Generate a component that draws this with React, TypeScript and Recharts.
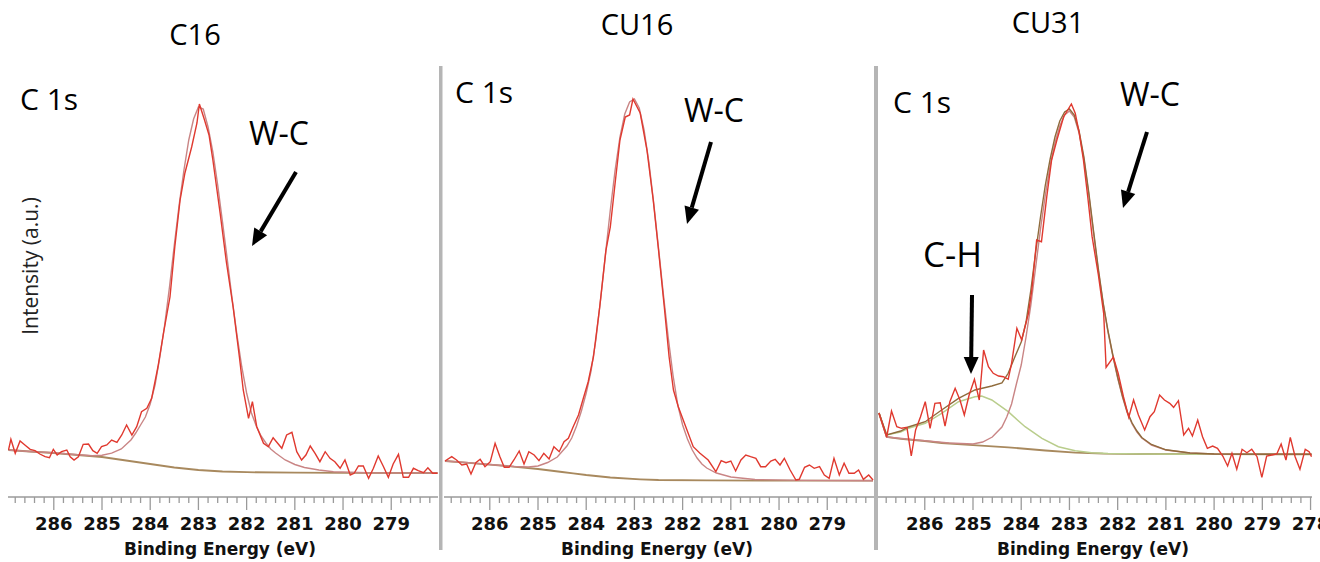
import React from 'react';
import { LineChart, Line, XAxis, YAxis } from 'recharts';

type Pt = [number, number];

// binding energy (eV), intensity (a.u.)
const majorTicks = [278, 279, 280, 281, 282, 283, 284, 285, 286];
const minorTicks = [
  278.2, 278.4, 278.6, 278.8, 279.2, 279.4, 279.6, 279.8, 280.2, 280.4, 280.6, 280.8,
  281.2, 281.4, 281.6, 281.8, 282.2, 282.4, 282.6, 282.8, 283.2, 283.4, 283.6, 283.8,
  284.2, 284.4, 284.6, 284.8, 285.2, 285.4, 285.6, 285.8, 286.2, 286.4, 286.6, 286.8,
];

const c16Raw: Pt[] = [
  [286.94, 47], [286.89, 57.7], [286.8, 43.7], [286.7, 56], [286.6, 52], [286.49, 47.7], [286.39, 46.3],
  [286.29, 43], [286.18, 40.3], [286.09, 39.3], [286.01, 47.7], [285.93, 42], [285.84, 45.3], [285.73, 47],
  [285.66, 40.3], [285.58, 37], [285.49, 40.3], [285.39, 52.7], [285.28, 53], [285.19, 46.3], [285.1, 43.7],
  [285.01, 50.3], [284.9, 52], [284.8, 57], [284.69, 54.7], [284.59, 62], [284.49, 72], [284.38, 62],
  [284.28, 70.3], [284.18, 85.3], [284.07, 88.7], [283.97, 98.7], [283.84, 130], [283.72, 165], [283.59, 200],
  [283.49, 250], [283.38, 297], [283.28, 324], [283.14, 350], [283.03, 374], [282.98, 393], [282.88, 378],
  [282.78, 362], [282.7, 337], [282.55, 284], [282.42, 235], [282.28, 190], [282.15, 140], [282.07, 107],
  [281.96, 78.7], [281.88, 95.3], [281.79, 70.3], [281.65, 53.7], [281.55, 50.3], [281.45, 59.3], [281.27, 48.7],
  [281.17, 62], [281.06, 64.7], [280.96, 45.3], [280.86, 37], [280.77, 42], [280.68, 51], [280.58, 43.7],
  [280.48, 35.3], [280.37, 45.3], [280.27, 38.7], [280.17, 35.3], [280.06, 28.7], [279.96, 37], [279.85, 22],
  [279.77, 23.7], [279.68, 31], [279.58, 31], [279.47, 18.7], [279.37, 28.7], [279.27, 41], [279.16, 30.3],
  [279.06, 19.7], [278.96, 33], [278.85, 42.7], [278.75, 19.7], [278.64, 19.7], [278.54, 28.7], [278.44, 26.3],
  [278.33, 24.3], [278.24, 29.3], [278.14, 23.7], [278.04, 23.7],
];
const c16Fit: Pt[] = [
  [286.94, 47], [286.5, 45.5], [286.0, 44.3], [285.5, 42.3], [285.2, 41.2], [285.0, 41.8], [284.8, 43.8],
  [284.6, 48], [284.4, 57], [284.3, 64], [284.2, 72], [284.1, 80], [284.0, 93], [283.9, 112], [283.8, 140],
  [283.7, 172], [283.6, 210], [283.5, 252], [283.4, 292], [283.3, 327], [283.2, 357], [283.1, 378], [283.0, 390],
  [282.9, 388], [282.8, 370], [282.7, 345], [282.6, 312], [282.5, 275], [282.4, 237], [282.3, 198], [282.2, 162],
  [282.1, 130], [282.0, 104], [281.9, 84], [281.8, 71], [281.7, 61], [281.6, 54], [281.5, 48], [281.4, 44],
  [281.2, 37], [281.0, 32.5], [280.8, 29.5], [280.5, 27], [280.2, 25.3], [279.5, 24.3], [278.04, 24],
];
const c16Bg: Pt[] = [
  [286.94, 47], [286.5, 45.5], [286.0, 44], [285.5, 42], [285.0, 40], [284.5, 36.5], [284.0, 33], [283.5, 29.5],
  [283.0, 27], [282.5, 25.5], [282.0, 24.8], [281.0, 24.4], [280.0, 24.2], [278.04, 24],
];

const cu16Raw: Pt[] = [
  [286.93, 36], [286.79, 40.3], [286.69, 37], [286.58, 32], [286.48, 33], [286.39, 23], [286.29, 34.3],
  [286.2, 37.7], [286.1, 30.3], [285.99, 35.3], [285.89, 53.7], [285.79, 40.3], [285.7, 29.7], [285.6, 29.7],
  [285.5, 37], [285.39, 46], [285.29, 33], [285.19, 45.3], [285.08, 42], [284.98, 36.3], [284.88, 43.7],
  [284.77, 38], [284.67, 50.3], [284.56, 45.3], [284.46, 55.3], [284.37, 58.7], [284.27, 70.3], [284.16, 82],
  [284.07, 97], [283.96, 115], [283.85, 140], [283.72, 190], [283.59, 247], [283.5, 270], [283.4, 314],
  [283.3, 357], [283.19, 380], [283.1, 382], [283.03, 398], [282.88, 384], [282.74, 347], [282.61, 297],
  [282.5, 247], [282.38, 190], [282.28, 140], [282.19, 107], [282.09, 90.3], [281.91, 67], [281.78, 50.3],
  [281.64, 43.7], [281.47, 37], [281.31, 25.3], [281.2, 36.3], [281.1, 34.3], [281.0, 36], [280.9, 26],
  [280.79, 37], [280.69, 42], [280.59, 40.3], [280.48, 38.7], [280.38, 30.3], [280.28, 30.3], [280.17, 36],
  [280.08, 37.7], [279.98, 32], [279.89, 38.7], [279.77, 27], [279.65, 17], [279.58, 17.7], [279.47, 29.7],
  [279.37, 32], [279.27, 28.7], [279.16, 30.3], [279.06, 22], [278.96, 18.7], [278.86, 38.7], [278.75, 22],
  [278.65, 33.7], [278.55, 23.7], [278.44, 23.7], [278.35, 27], [278.25, 17.7], [278.14, 22], [278.05, 17],
];
const cu16Fit: Pt[] = [
  [286.93, 36], [286.5, 34.5], [286.0, 32.5], [285.5, 30.5], [285.2, 30], [285.0, 31], [284.8, 34.5],
  [284.6, 40], [284.4, 51], [284.3, 59], [284.2, 71], [284.1, 86], [284.0, 104], [283.9, 126], [283.8, 157],
  [283.7, 198], [283.6, 243], [283.5, 287], [283.4, 327], [283.3, 360], [283.2, 383], [283.1, 395], [283.0, 398],
  [282.9, 389], [282.8, 367], [282.7, 335], [282.6, 294], [282.5, 249], [282.4, 203], [282.3, 160], [282.2, 122],
  [282.1, 92], [282.0, 72], [281.9, 58], [281.8, 47], [281.7, 39], [281.6, 33], [281.5, 29], [281.3, 24],
  [281.0, 20], [280.5, 17.5], [279.5, 16.6], [278.05, 16.3],
];
const cu16Bg: Pt[] = [
  [286.93, 36], [286.5, 34.3], [286.0, 32.3], [285.65, 31], [285.0, 28], [284.5, 25], [284.27, 23.7],
  [284.0, 22], [283.5, 19.5], [282.88, 17.7], [282.5, 17], [281.5, 16.7], [280.0, 16.4], [278.05, 16.3],
];

const cu31Raw: Pt[] = [
  [286.95, 84], [286.79, 60], [286.69, 86], [286.58, 70.3], [286.48, 68.7], [286.37, 69.7], [286.28, 41],
  [286.19, 67], [286.09, 80], [285.99, 95.3], [285.89, 68.7], [285.79, 93.7], [285.68, 94.3], [285.58, 71],
  [285.48, 95.3], [285.37, 108.7], [285.27, 97], [285.18, 82], [285.08, 102], [284.97, 117.7], [284.87, 97],
  [284.78, 147], [284.68, 130.3], [284.58, 123.7], [284.47, 121], [284.37, 120.3], [284.27, 117.7],
  [284.2, 133.7], [284.09, 168.7], [283.99, 157], [283.85, 183.7], [283.78, 207], [283.68, 257],
  [283.58, 255.3], [283.47, 300.3], [283.37, 337], [283.26, 357], [283.12, 380.3], [282.96, 393],
  [282.88, 383.7], [282.8, 365], [282.71, 337], [282.62, 300], [282.53, 260.3], [282.4, 222], [282.29, 183.7],
  [282.24, 129.5], [282.09, 140], [281.99, 123.7], [281.88, 100.3], [281.77, 79.7], [281.67, 97], [281.57, 82],
  [281.44, 67], [281.33, 80.3], [281.24, 85.3], [281.13, 102], [281.03, 97], [280.92, 93.7], [280.84, 89.7],
  [280.74, 96.3], [280.63, 62], [280.53, 68.7], [280.45, 61], [280.34, 77], [280.24, 60.3], [280.14, 48.7],
  [280.03, 51], [279.93, 48.7], [279.82, 41], [279.72, 31], [279.63, 43.7], [279.53, 27.7], [279.42, 47.7],
  [279.32, 44.3], [279.22, 47.7], [279.11, 40.3], [279.01, 19.7], [278.91, 41], [278.8, 42], [278.7, 43],
  [278.61, 53], [278.51, 37], [278.42, 59.7], [278.32, 40.3], [278.22, 27.7], [278.11, 47.7], [278.03, 45.3],
  [277.98, 40.3],
];
const cu31Bg: Pt[] = [
  [286.95, 84], [286.79, 60], [286.5, 58.2], [286.0, 56], [285.65, 54], [285.0, 51.8], [284.27, 49.7],
  [283.5, 46.5], [282.88, 44.3], [282.3, 43.3], [281.5, 43], [280.0, 42.8], [277.98, 42.7],
];
const cu31CH: Pt[] = [
  [286.95, 84], [286.79, 62], [286.5, 65], [286.34, 68.7], [285.99, 73.7], [285.65, 83.7], [285.3, 95.3],
  [284.96, 100.3], [284.82, 101], [284.61, 97], [284.27, 85.3], [283.92, 70.3], [283.57, 58.7],
  [283.23, 50.3], [282.88, 46.3], [282.54, 44.3], [282.2, 43.5], [281.5, 43], [280.0, 42.8], [277.98, 42.7],
];
const cu31WC: Pt[] = [
  [286.95, 84], [286.79, 60], [286.0, 56.2], [285.5, 54], [285.0, 53], [284.8, 55], [284.6, 60], [284.4, 70],
  [284.3, 80], [284.2, 93], [284.1, 113], [284.0, 132], [283.9, 160], [283.8, 192], [283.7, 230], [283.6, 268],
  [283.5, 302], [283.4, 331], [283.3, 354], [283.2, 371], [283.1, 382], [283.0, 386], [282.9, 380],
  [282.8, 364], [282.7, 338], [282.6, 303], [282.5, 264], [282.4, 226], [282.3, 193], [282.2, 165],
  [282.1, 141], [282.0, 119], [281.9, 100], [281.8, 84], [281.7, 73], [281.6, 65], [281.5, 59], [281.3, 52],
  [281.0, 47], [280.5, 44], [280.0, 43], [277.98, 42.7],
];
const cu31Env: Pt[] = [
  [286.95, 84], [286.79, 62], [286.5, 66], [286.34, 70], [285.99, 75.3], [285.65, 87], [285.3, 98.7],
  [284.96, 107], [284.61, 111], [284.4, 114], [284.27, 123.7], [284.15, 138], [284.0, 155], [283.9, 175],
  [283.8, 207], [283.7, 245], [283.6, 280], [283.5, 312], [283.4, 338], [283.3, 360], [283.2, 376],
  [283.1, 385], [283.0, 388], [282.9, 382], [282.8, 366], [282.7, 340], [282.6, 305], [282.5, 266],
  [282.4, 228], [282.3, 194], [282.2, 166], [282.1, 142], [282.0, 120], [281.9, 101], [281.8, 85],
  [281.7, 74], [281.6, 66], [281.5, 59.5], [281.3, 52.5], [281.0, 47.2], [280.5, 44], [280.0, 43],
  [277.98, 42.7],
];

const RAW = '#e0392f';
const FIT = '#c98585';
const BG = '#a8895e';
const GREEN = '#b9cd8c';
const ENV = '#8f6b3c';
const AXIS = '#9a9a9a';
const AXIS_FONT = "'DejaVu Sans', sans-serif";

const toRows = (pts: Pt[]) => pts.map(([x, y]) => ({ x, y }));

const EnergyTick = (props: any) => {
  const { x, y, payload } = props;
  const major = majorTicks.includes(payload.value);
  return (
    <g>
      <line x1={x} x2={x} y1={y} y2={y + (major ? 13 : 6)} stroke={AXIS} strokeWidth={1.3} />
      {major && (
        <text x={x} y={y + 33} textAnchor="middle" fontFamily={AXIS_FONT}
          fontWeight="bold" fontSize={18} fill="#111">
          {payload.value}
        </text>
      )}
    </g>
  );
};

interface Series { data: Pt[]; color: string; width: number }

const Panel = ({ left, width, marginRight, domain, series }: {
  left: number; width: number; marginRight: number; domain: [number, number]; series: Series[];
}) => {
  const ticks = [...majorTicks, ...minorTicks]
    .filter(t => t >= domain[0] && t <= domain[1])
    .sort((a, b) => a - b);
  return (
    <div style={{ position: 'absolute', left, top: 66 }}>
      <LineChart width={width} height={496} margin={{ top: 0, right: marginRight, bottom: 0, left: 0 }}>
        <XAxis type="number" dataKey="x" domain={domain} reversed allowDataOverflow ticks={ticks} interval={0}
          tick={(p: any) => <EnergyTick {...p} />} tickLine={false} tickSize={0} tickMargin={0} height={65}
          axisLine={{ stroke: AXIS, strokeWidth: 1.5 }} />
        <YAxis type="number" domain={[0, 431]} hide allowDataOverflow />
        {series.map((s, i) => (
          <Line key={i} data={toRows(s.data)} dataKey="y" type="linear" stroke={s.color} strokeWidth={s.width}
            dot={false} activeDot={false} isAnimationActive={false} />
        ))}
      </LineChart>
    </div>
  );
};

const Arrow = ({ x1, y1, x2, y2 }: { x1: number; y1: number; x2: number; y2: number }) => {
  const dx = x2 - x1;
  const dy = y2 - y1;
  const len = Math.hypot(dx, dy);
  const ux = dx / len;
  const uy = dy / len;
  const bx = x2 - ux * 17;
  const by = y2 - uy * 17;
  const hw = 7.5;
  return (
    <g>
      <line x1={x1} y1={y1} x2={bx} y2={by} stroke="#000" strokeWidth={4} />
      <polygon points={`${x2},${y2} ${bx - uy * hw},${by + ux * hw} ${bx + uy * hw},${by - ux * hw}`} fill="#000" />
    </g>
  );
};

const LABEL_FONT = "'Open Sans', 'Noto Sans', sans-serif";

const App = () => (
  <div style={{ position: 'absolute', left: 0, top: 0, width: 1320, height: 562, background: '#fff', overflow: 'hidden' }}>
    <Panel left={8} width={430} marginRight={0} domain={[278.03, 286.95]}
      series={[
        { data: c16Bg, color: BG, width: 1.8 },
        { data: c16Fit, color: FIT, width: 1.4 },
        { data: c16Raw, color: RAW, width: 1.4 },
      ]} />
    <Panel left={444} width={430} marginRight={0} domain={[278.03, 286.95]}
      series={[
        { data: cu16Bg, color: BG, width: 1.8 },
        { data: cu16Fit, color: FIT, width: 1.4 },
        { data: cu16Raw, color: RAW, width: 1.4 },
      ]} />
    <Panel left={878} width={442} marginRight={8} domain={[277.97, 286.97]}
      series={[
        { data: cu31Bg, color: BG, width: 1.8 },
        { data: cu31CH, color: GREEN, width: 1.5 },
        { data: cu31WC, color: FIT, width: 1.4 },
        { data: cu31Env, color: ENV, width: 1.4 },
        { data: cu31Raw, color: RAW, width: 1.4 },
      ]} />
    <svg width={1320} height={562} style={{ position: 'absolute', left: 0, top: 0, pointerEvents: 'none' }}>
      <rect x={439} y={66} width={3.5} height={484} fill="#b5b5b5" />
      <rect x={874} y={66} width={4} height={484} fill="#b5b5b5" />

      <g fontFamily={LABEL_FONT} fill="#000">
        <text x={195} y={45} fontSize={29} textAnchor="middle">C16</text>
        <text x={637} y={35} fontSize={29} textAnchor="middle">CU16</text>
        <text x={1048} y={33} fontSize={29} textAnchor="middle">CU31</text>

        <text x={20} y={110} fontSize={30}>C 1s</text>
        <text x={455} y={103} fontSize={30}>C 1s</text>
        <text x={893} y={113} fontSize={30}>C 1s</text>

        <text x={249} y={145} fontSize={32}>W-C</text>
        <text x={684} y={122} fontSize={32}>W-C</text>
        <text x={1120} y={106} fontSize={32}>W-C</text>
        <text x={923} y={267} fontSize={35}>C-H</text>

        <text x={0} y={0} fontSize={21} fill="#222" textAnchor="middle"
          transform="translate(38 266) rotate(-90)">Intensity (a.u.)</text>
      </g>

      <g fontFamily={AXIS_FONT} fontWeight="bold" fontSize={17} fill="#111" textAnchor="middle">
        <text x={220} y={555}>Binding Energy (eV)</text>
        <text x={657} y={555}>Binding Energy (eV)</text>
        <text x={1093} y={555}>Binding Energy (eV)</text>
      </g>

      <Arrow x1={296} y1={172} x2={252} y2={246} />
      <Arrow x1={711} y1={142} x2={687} y2={224} />
      <Arrow x1={1147} y1={132} x2={1123} y2={208} />
      <Arrow x1={972} y1={295} x2={971} y2={374} />
    </svg>
  </div>
);

export default App;
